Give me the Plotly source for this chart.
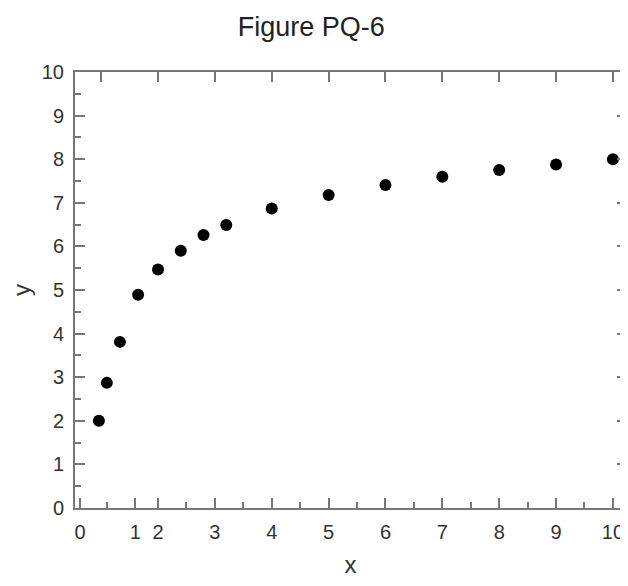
import plotly.graph_objects as go

# Data (linear x scale, as shown by the top-axis ticks)
x_vals = [0.96, 1.10, 1.33, 1.65, 2.0, 2.4, 2.8, 3.2, 4, 5, 6, 7, 8, 9, 10]
y_vals = [2.0, 2.87, 3.81, 4.89, 5.47, 5.90, 6.26, 6.49, 6.87, 7.18, 7.41, 7.60, 7.75, 7.88, 8.0]

# Bottom-axis tick labels as printed (the "0" and "1" sit where they appear)
x_tick_vals = [0.63, 1.6, 2, 3, 4, 5, 6, 7, 8, 9, 10]
x_tick_text = ["0", "1", "2", "3", "4", "5", "6", "7", "8", "9", "10"]
x_minor_vals = [1.1, 2.5, 3.5, 4.5, 5.5, 6.5, 7.5, 8.5, 9.5]
x_top_vals = [1, 2, 3, 4, 5, 6, 7, 8, 9, 10]
y_tick_vals = [0, 1, 2, 3, 4, 5, 6, 7, 8, 9, 10]
y_minor_vals = [0.5, 1.5, 2.5, 3.5, 4.5, 5.5, 6.5, 7.5, 8.5, 9.5]

x_range = [0.54, 10.23]
y_range = [0, 10]

axis_col = "#777777"
text_col = "#333333"
font_fam = "Liberation Sans, Arial, sans-serif"

fig = go.Figure()
fig.add_trace(go.Scatter(
    x=x_vals, y=y_vals, mode="markers",
    marker=dict(color="black", size=12),
    showlegend=False, cliponaxis=False,
))
# invisible trace to activate the top/right overlay axes
fig.add_trace(go.Scatter(x=[x_range[0]], y=[y_range[0]], xaxis="x2", yaxis="y2",
                         mode="markers", marker=dict(opacity=0), showlegend=False,
                         hoverinfo="skip"))

# the page body adds an 8px offset, so the figure is made smaller to fit
fig.update_layout(
    width=620, height=570,
    margin=dict(l=67, r=2, t=64, b=70, autoexpand=False),
    paper_bgcolor="white", plot_bgcolor="white",
    font=dict(family=font_fam, color=text_col, size=20),
    title=dict(text="Figure PQ-6", x=0.489, xanchor="center", y=1 - 19 / 570, yanchor="middle",
               font=dict(size=27, color="#222222"), automargin=False),
    xaxis=dict(
        range=x_range, showgrid=False, zeroline=False, automargin=False,
        showline=True, linecolor=axis_col, linewidth=2,
        tickmode="array", tickvals=x_tick_vals, ticktext=x_tick_text,
        ticks="inside", ticklen=10, tickwidth=2, tickcolor=axis_col,
        ticklabelstandoff=5,
        minor=dict(tickmode="array", tickvals=x_minor_vals, ticks="inside",
                   ticklen=6, tickwidth=2, tickcolor=axis_col),
        title=dict(text="x", font=dict(size=24), standoff=25),
    ),
    yaxis=dict(
        range=y_range, showgrid=False, zeroline=False, automargin=False,
        showline=True, linecolor=axis_col, linewidth=2,
        tickmode="array", tickvals=y_tick_vals,
        ticks="inside", ticklen=10, tickwidth=2, tickcolor=axis_col,
        ticklabelstandoff=5,
        minor=dict(tickmode="array", tickvals=y_minor_vals, ticks="inside",
                   ticklen=6, tickwidth=2, tickcolor=axis_col),
        title=dict(text="y", font=dict(size=24), standoff=6),
    ),
    xaxis2=dict(
        overlaying="x", side="top", range=x_range, showgrid=False, zeroline=False,
        showline=True, linecolor=axis_col, linewidth=2, automargin=False,
        tickmode="array", tickvals=x_top_vals, showticklabels=False,
        ticks="inside", ticklen=10, tickwidth=2, tickcolor=axis_col,
    ),
    yaxis2=dict(
        overlaying="y", side="right", range=y_range, showgrid=False, zeroline=False,
        showline=True, linecolor=axis_col, linewidth=2, automargin=False,
        tickmode="array", tickvals=y_tick_vals, showticklabels=False,
        ticks="inside", ticklen=9, tickwidth=2, tickcolor=axis_col,
    ),
)

fig.write_html("out.html")
